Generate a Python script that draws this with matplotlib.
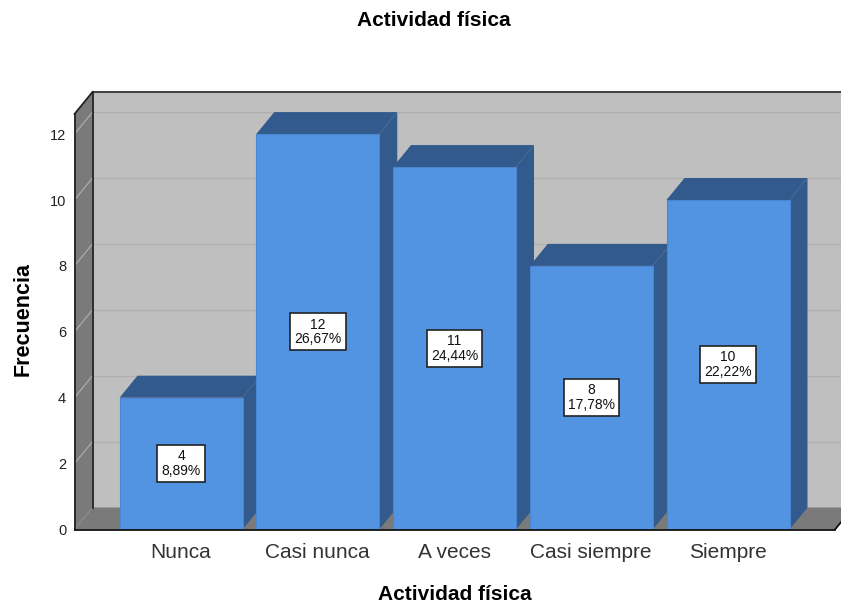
import matplotlib
matplotlib.use("Agg")
import matplotlib.pyplot as plt
from matplotlib.patches import Polygon, Rectangle

categories = ["Nunca", "Casi nunca", "A veces", "Casi siempre", "Siempre"]
counts = [4, 12, 11, 8, 10]
percents = ["8,89%", "26,67%", "24,44%", "17,78%", "22,22%"]
y_ticks = [0, 2, 4, 6, 8, 10, 12]

plt.rcParams["font.family"] = ["Liberation Sans", "DejaVu Sans"]

W, H = 841, 604
fig = plt.figure(figsize=(W / 100, H / 100), dpi=100)
left, right, bottom, top = 74.5, 841.0, 529.5, 92.0
ax = fig.add_axes([left / W, 1 - bottom / H, (right - left) / W, (bottom - top) / H])

px_x = 136.75
px_y = 32.95
xc = 181.0
x0 = (left - xc) / px_x
x1 = (right - xc) / px_x
ax.set_xlim(x0, x1)
ax.set_ylim(0, (bottom - top) / px_y)
dx = 18 / px_x
dy = 22 / px_y
ymax = (bottom - top) / px_y - dy
xend = (835 - xc) / px_x
bw = 123 / px_x

WALL = "#BFBFBF"
FLOOR = "#7A7A7A"
GRID = "#B0B0B0"
FRONT = "#5294E2"
DARK = "#325A8C"

def poly(pts, fc, z, ec="none", lw=0):
    ax.add_patch(Polygon(pts, closed=True, fc=fc, ec=ec, lw=lw, zorder=z, clip_on=False))

# back wall, side wall, floor
poly([(x0 + dx, dy), (xend + dx, dy), (xend + dx, ymax + dy), (x0 + dx, ymax + dy)], WALL, 1)
poly([(x0, 0), (x0 + dx, dy), (x0 + dx, ymax + dy), (x0, ymax)], FLOOR, 1)
poly([(x0, 0), (xend, 0), (xend + dx, dy), (x0 + dx, dy)], FLOOR, 1)

# gridlines
for v in y_ticks[1:]:
    ax.plot([x0 + dx, xend + dx], [v + dy, v + dy], color=GRID, lw=1.0, zorder=2, clip_on=False)
    ax.plot([x0, x0 + dx], [v, v + dy], color="#B0B0B0", lw=0.8, zorder=2, clip_on=False)

# wall edges
ax.plot([x0 + dx, x0 + dx], [dy, ymax + dy], color="#222222", lw=1.3, zorder=3, clip_on=False)
ax.plot([x0 + dx, xend + dx], [ymax + dy, ymax + dy], color="#333333", lw=1.3, zorder=3, clip_on=False)
ax.plot([x0, x0 + dx], [ymax, ymax + dy], color="#222222", lw=1.3, zorder=3, clip_on=False)
ax.plot([xend, xend + dx], [0, dy], color="#111111", lw=1.3, zorder=3, clip_on=False)

# bars
for i, (c, p) in enumerate(zip(counts, percents)):
    l, r = i - bw / 2, i + bw / 2
    poly([(r, 0), (r + dx, dy), (r + dx, c + dy), (r, c)], DARK, 5 + i)
    poly([(l, c), (r, c), (r + dx, c + dy), (l + dx, c + dy)], DARK, 5 + i)
    ax.add_patch(Rectangle((l, 0), bw, c, fc=FRONT, ec="#4A86CF", lw=0.8, zorder=5.5 + i))
    ax.text(i, c / 2, f"{c}\n{p}", ha="center", va="center", fontsize=10, linespacing=1.05,
            color="#111111", zorder=20,
            bbox=dict(boxstyle="square,pad=0.3", fc="white", ec="#222222", lw=1.2))

# axes
for s in ["top", "right"]:
    ax.spines[s].set_visible(False)
ax.spines["left"].set_bounds(0, ymax)
ax.spines["left"].set_color("#222222")
ax.spines["left"].set_linewidth(1.3)
ax.spines["bottom"].set_bounds(x0, xend)
ax.spines["bottom"].set_color("#111111")
ax.spines["bottom"].set_linewidth(1.3)
for s in ax.spines.values():
    s.set_zorder(30)
ax.patch.set_visible(False)
ax.set_yticks(y_ticks)
ax.set_xticks(range(len(categories)))
ax.set_xticklabels(categories, fontsize=15, color="#333333")
ax.tick_params(axis="x", length=0, pad=10)
ax.tick_params(axis="y", length=0, labelsize=10.5, pad=6, labelcolor="#222222")

fig.text(433.5 / W, 1 - 21 / H, "Actividad física", ha="center", va="center", fontsize=15, fontweight="bold")
fig.text(455 / W, 1 - 595 / H, "Actividad física", ha="center", va="center", fontsize=15, fontweight="bold")
fig.text(23 / W, 1 - 319 / H, "Frecuencia", ha="center", va="center", rotation=90, fontsize=15.5, fontweight="bold")

fig.savefig("out.png", dpi=100)
